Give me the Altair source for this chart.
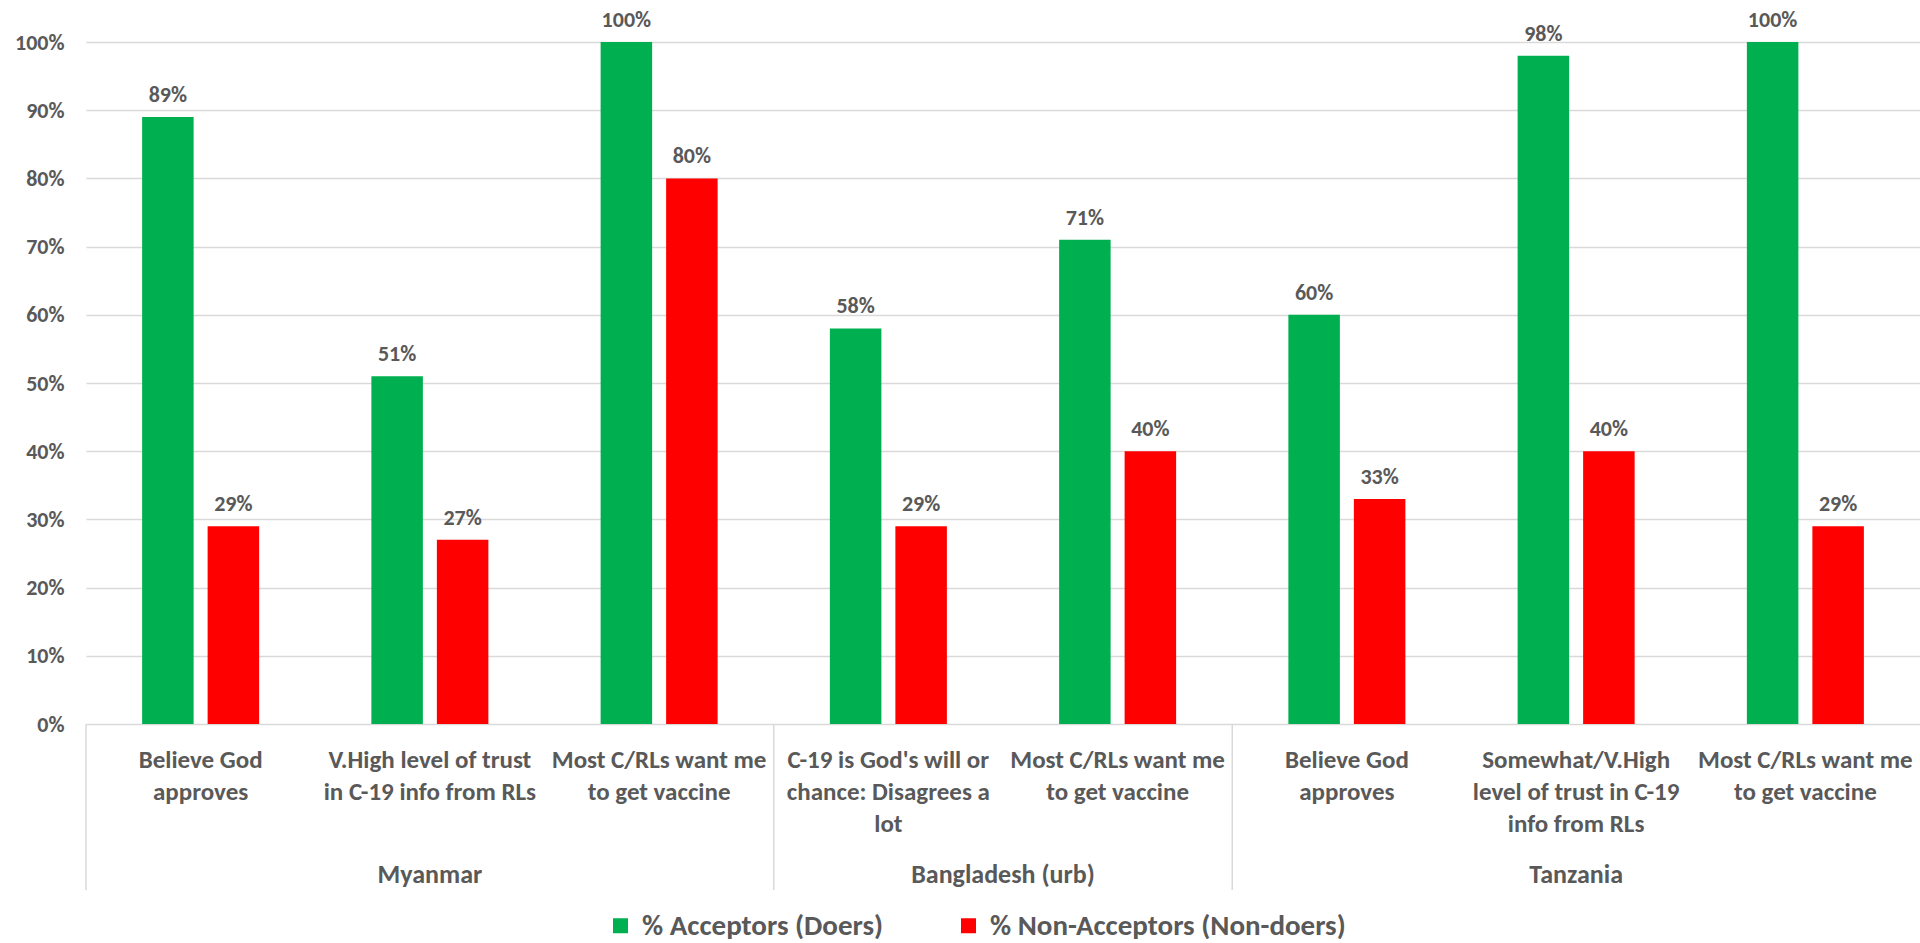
import altair as alt
import pandas as pd

# Survey results by country and statement
countries = [
    "Myanmar", "Myanmar", "Myanmar",
    "Bangladesh (urb)", "Bangladesh (urb)",
    "Tanzania", "Tanzania", "Tanzania",
]
statements = [
    "Believe God|approves",
    "V.High level of trust|in C-19 info from RLs",
    "Most C/RLs want me|to get vaccine",
    "C-19 is God's will or|chance:  Disagrees a|lot",
    "Most C/RLs want me|to get vaccine",
    "Believe God|approves",
    "Somewhat/V.High|level of trust in C-19|info from RLs",
    "Most C/RLs want me|to get vaccine",
]
acceptors = [0.89, 0.51, 1.00, 0.58, 0.71, 0.60, 0.98, 1.00]
non_acceptors = [0.29, 0.27, 0.80, 0.29, 0.40, 0.33, 0.40, 0.29]
series = ["% Acceptors (Doers)", "% Non-Acceptors (Non-doers)"]
series_colors = ["#00B050", "#FF0000"]
y_ticks = [i / 10 for i in range(11)]

FONT = "Carlito, Calibri, Lato, sans-serif"
TEXT = "#595959"
GRID = "#D9D9D9"

W, H = 1834, 682

keys = [f"c{i}" for i in range(len(statements))]

bars = pd.DataFrame(
    [
        {"key": k, "series": s, "value": v}
        for k, a, n in zip(keys, acceptors, non_acceptors)
        for s, v in zip(series, (a, n))
    ]
)

cats = pd.DataFrame(
    {"pos": [i + 0.5 for i in range(len(statements))], "label": statements}
)

# contiguous runs of the same country -> group spans in category units
groups = []
start = 0
for i in range(1, len(countries) + 1):
    if i == len(countries) or countries[i] != countries[start]:
        groups.append({"country": countries[start], "start": start, "end": i})
        start = i
groups = pd.DataFrame(groups)

x_band = alt.X(
    "key:N",
    axis=None,
    scale=alt.Scale(domain=keys, paddingInner=0.4896, paddingOuter=0.2448),
)
x_off = alt.XOffset(
    "series:N",
    scale=alt.Scale(domain=series, paddingInner=0.2137, paddingOuter=0),
)
y_axis = alt.Axis(
    values=y_ticks,
    format=".0%",
    title=None,
    domain=False,
    ticks=False,
    labelPadding=22,
    labelFontSize=22,
    labelFontWeight="bold",
    labelColor=TEXT,
    labelFont=FONT,
    grid=True,
    gridColor=GRID,
    gridWidth=1.5,
)
y_val = alt.Y("value:Q", scale=alt.Scale(domain=[0, 1], nice=False), axis=y_axis)

bar_layer = (
    alt.Chart(bars)
    .mark_bar()
    .encode(
        x=x_band,
        xOffset=x_off,
        y=y_val,
        color=alt.Color(
            "series:N",
            scale=alt.Scale(domain=series, range=series_colors),
            legend=alt.Legend(
                title=None,
                orient="none",
                legendX=520,
                legendY=869,
                direction="horizontal",
                symbolType="square",
                symbolSize=225,
                symbolStrokeWidth=0,
                labelFontSize=29,
                labelFontWeight="bold",
                labelColor=TEXT,
                labelFont=FONT,
                labelOffset=7,
                labelLimit=0,
                columnPadding=70,
            ),
        ),
    )
)

value_layer = (
    alt.Chart(bars)
    .mark_text(
        baseline="alphabetic",
        dy=-15,
        fontSize=22,
        fontWeight="bold",
        color=TEXT,
        font=FONT,
    )
    .encode(
        x=x_band,
        xOffset=x_off,
        y=y_val,
        text=alt.Text("value:Q", format=".0%"),
    )
)

x_lin = alt.Scale(domain=[0, len(statements)], nice=False, zero=False)

cat_layer = (
    alt.Chart(cats)
    .mark_text(
        baseline="alphabetic",
        lineBreak="|",
        lineHeight=32,
        fontSize=25,
        fontWeight="bold",
        color=TEXT,
        font=FONT,
    )
    .encode(
        x=alt.X("pos:Q", scale=x_lin, axis=None),
        y=alt.value(768 - 42),
        text="label:N",
    )
)

sep_layer = (
    alt.Chart(groups)
    .mark_rule(color=GRID, strokeWidth=1.5)
    .encode(
        x=alt.X("start:Q", scale=x_lin, axis=None),
        y=alt.value(H),
        y2=alt.value(890 - 42),
    )
)

country_layer = (
    alt.Chart(groups)
    .transform_calculate(mid="(datum.start + datum.end) / 2")
    .mark_text(
        baseline="alphabetic",
        fontSize=26,
        fontWeight="bold",
        color=TEXT,
        font=FONT,
    )
    .encode(
        x=alt.X("mid:Q", scale=x_lin, axis=None),
        y=alt.value(883 - 42),
        text="country:N",
    )
)

chart = (
    alt.layer(bar_layer, value_layer, cat_layer, sep_layer, country_layer)
    .resolve_scale(x="independent")
    .properties(
        width=W,
        height=H,
        padding={"left": 86, "top": 42, "right": 0, "bottom": 943 - 42 - H - 4},
        autosize=alt.AutoSizeParams(type="none"),
        background="white",
    )
    .configure_view(stroke=None)
)

chart.save("out.html", embed_options={"renderer": "svg", "actions": False})
